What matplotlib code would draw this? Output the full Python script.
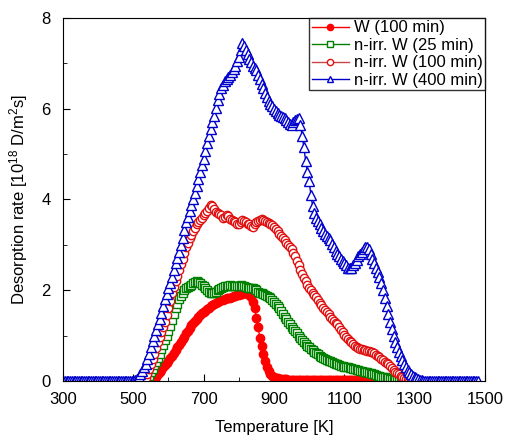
import numpy as np
import matplotlib
matplotlib.use('Agg')
import matplotlib.pyplot as plt

plt.rcParams['font.family'] = ['Liberation Sans', 'DejaVu Sans']
plt.rcParams['mathtext.default'] = 'regular'

STEP = 5

# W (100 min), from 550 K
w_100min = [0.0, 0.02, 0.05, 0.1, 0.15, 0.2, 0.25, 0.3, 0.35, 0.4,
            0.45, 0.5, 0.55, 0.62, 0.68, 0.74, 0.8, 0.86, 0.92, 0.98,
            1.05, 1.11, 1.17, 1.23, 1.28, 1.33, 1.37, 1.41, 1.45, 1.49,
            1.52, 1.55, 1.58, 1.62, 1.65, 1.68, 1.7, 1.73, 1.75, 1.77,
            1.78, 1.79, 1.8, 1.82, 1.83, 1.84, 1.85, 1.87, 1.88, 1.89,
            1.9, 1.91, 1.92, 1.93, 1.93, 1.92, 1.9, 1.85, 1.75, 1.6,
            1.4, 1.18, 0.95, 0.77, 0.6, 0.45, 0.32, 0.23, 0.16, 0.12,
            0.09, 0.07, 0.06, 0.05, 0.05, 0.04, 0.04, 0.04] + [0.03] * 53

# n-irr. W (25 min), from 530 K
nirr_25min = [0.0, 0.02, 0.05, 0.12, 0.2, 0.27, 0.35, 0.42, 0.5, 0.6,
              0.7, 0.8, 0.9, 1.0, 1.1, 1.22, 1.35, 1.48, 1.6, 1.7,
              1.8, 1.88, 1.95, 2.0, 2.05, 2.08, 2.1, 2.12, 2.15, 2.18,
              2.2, 2.18, 2.15, 2.12, 2.1, 2.05, 2.0, 1.97, 1.95, 1.94,
              1.95, 1.97, 2.0, 2.02, 2.05, 2.08, 2.1, 2.1, 2.1, 2.12,
              2.1, 2.1, 2.1, 2.1, 2.1, 2.12, 2.1, 2.1, 2.08, 2.06,
              2.05, 2.05, 2.05, 2.02, 2.0, 1.97, 1.95, 1.93, 1.92, 1.9,
              1.88, 1.85, 1.82, 1.78, 1.75, 1.7, 1.65, 1.6, 1.55, 1.48,
              1.42, 1.36, 1.3, 1.25, 1.2, 1.15, 1.1, 1.05, 1.0, 0.95,
              0.9, 0.86, 0.82, 0.78, 0.75, 0.71, 0.68, 0.65, 0.62, 0.59,
              0.56, 0.53, 0.5, 0.48, 0.47, 0.45, 0.44, 0.42, 0.4, 0.38,
              0.37, 0.35, 0.34, 0.33, 0.32, 0.31, 0.3, 0.29, 0.28, 0.27,
              0.26, 0.25, 0.24, 0.23, 0.22, 0.21, 0.2, 0.19, 0.18, 0.17,
              0.16, 0.15, 0.14, 0.12, 0.11, 0.1, 0.09, 0.08, 0.07, 0.06,
              0.05, 0.04, 0.03, 0.025, 0.02, 0.015, 0.01, 0.005, 0.0, 0.0,
              0.0]

# n-irr. W (100 min), from 530 K
nirr_100min = [0.0, 0.07, 0.15, 0.26, 0.38, 0.49, 0.6, 0.72, 0.85, 0.96,
               1.08, 1.19, 1.3, 1.45, 1.6, 1.77, 1.94, 2.07, 2.2, 2.32,
               2.45, 2.57, 2.7, 2.82, 2.95, 3.05, 3.15, 3.22, 3.3, 3.38,
               3.45, 3.5, 3.55, 3.6, 3.65, 3.7, 3.75, 3.82, 3.88, 3.85,
               3.8, 3.72, 3.7, 3.68, 3.65, 3.6, 3.62, 3.66, 3.64, 3.58,
               3.55, 3.52, 3.5, 3.47, 3.45, 3.5, 3.55, 3.52, 3.5, 3.47,
               3.45, 3.42, 3.4, 3.45, 3.5, 3.53, 3.55, 3.56, 3.55, 3.53,
               3.5, 3.48, 3.45, 3.43, 3.4, 3.35, 3.3, 3.25, 3.2, 3.15,
               3.1, 3.05, 3.0, 2.95, 2.9, 2.83, 2.75, 2.65, 2.55, 2.45,
               2.35, 2.27, 2.2, 2.12, 2.05, 2.0, 1.95, 1.9, 1.85, 1.78,
               1.72, 1.67, 1.62, 1.57, 1.52, 1.47, 1.42, 1.37, 1.33, 1.29,
               1.25, 1.18, 1.12, 1.07, 1.02, 0.97, 0.93, 0.89, 0.85, 0.81,
               0.78, 0.75, 0.73, 0.71, 0.7, 0.69, 0.68, 0.67, 0.66, 0.65,
               0.63, 0.61, 0.58, 0.55, 0.52, 0.49, 0.46, 0.43, 0.4, 0.37,
               0.33, 0.29, 0.25, 0.21, 0.18, 0.15, 0.12, 0.09, 0.07, 0.05,
               0.03, 0.01, 0.0]

# n-irr. W (400 min), from 300 K
nirr_400min = [0.0] * 41 + [
    0.02, 0.05, 0.1, 0.15, 0.22, 0.3, 0.38, 0.48, 0.6, 0.75,
    0.88, 1.0, 1.12, 1.25, 1.37, 1.5, 1.65, 1.8, 1.92, 2.05,
    2.17, 2.3, 2.45, 2.6, 2.72, 2.85, 3.0, 3.15, 3.32, 3.5,
    3.62, 3.75, 3.87, 4.0, 4.15, 4.3, 4.45, 4.6, 4.75, 4.9,
    5.07, 5.25, 5.4, 5.55, 5.7, 5.85, 6.02, 6.2, 6.32, 6.45,
    6.52, 6.6, 6.65, 6.7, 6.75, 6.8, 6.88, 6.95, 7.05, 7.15,
    7.3, 7.45, 7.38, 7.3, 7.2, 7.1, 7.02, 6.95, 6.9, 6.85,
    6.75, 6.65, 6.55, 6.45, 6.35, 6.25, 6.17, 6.1, 6.05, 6.0,
    5.95, 5.9, 5.87, 5.85, 5.82, 5.8, 5.75, 5.7, 5.67, 5.65,
    5.7, 5.75, 5.78, 5.8, 5.65, 5.4, 5.15, 4.85, 4.6, 4.4,
    4.1, 3.85, 3.7, 3.6, 3.52, 3.45, 3.37, 3.3, 3.25, 3.2,
    3.15, 3.1, 3.02, 2.95, 2.87, 2.8, 2.75, 2.7, 2.65, 2.6,
    2.55, 2.5, 2.48, 2.5, 2.55, 2.6, 2.67, 2.75, 2.8, 2.85,
    2.9, 2.95, 2.95, 2.9, 2.8, 2.7, 2.6, 2.5, 2.4, 2.3,
    2.15, 2.0, 1.82, 1.65, 1.47, 1.3, 1.15, 1.0, 0.87, 0.75,
    0.65, 0.55, 0.46, 0.38, 0.31, 0.25, 0.2, 0.15, 0.11, 0.08,
    0.06, 0.04, 0.03, 0.02] + [0.0] * 32

series = [
    ('W (100 min)', 550, w_100min, 'o', '#ff0000', '#ff0000', '#ff0000', 6),
    ('n-irr. W (25 min)', 530, nirr_25min, 's', '#008000', '#008000', 'white', 5.5),
    ('n-irr. W (100 min)', 530, nirr_100min, 'o', '#c84646', '#e01010', 'white', 6),
    ('n-irr. W (400 min)', 300, nirr_400min, '^', '#0000cc', '#0000cc', 'white', 6.5),
]

fig = plt.figure(figsize=(5.06, 4.37), dpi=100)
ax = fig.add_axes([0.1245, 0.128, 0.834, 0.831])

for label, t0, rate, marker, lc, ec, fc, ms in series:
    temp = t0 + STEP * np.arange(len(rate))
    ax.plot(temp, rate, '-', marker=marker, color=lc, lw=1, ms=ms,
            mec=ec, mfc=fc, mew=1.0, label=label)

ax.set_xlim(300, 1500)
ax.set_ylim(0, 8)
ax.set_xticks(range(300, 1501, 200))
ax.set_xticks(range(400, 1500, 200), minor=True)
ax.set_yticks(range(0, 9, 2))
ax.set_yticks(range(1, 8, 2), minor=True)
ax.tick_params(which='both', direction='in', labelsize=12)
ax.tick_params(which='major', length=5)
ax.tick_params(which='minor', length=3)
ax.tick_params(axis='x', which='major', pad=8)
ax.tick_params(axis='y', which='major', pad=9)

ax.set_xlabel('Temperature [K]', fontsize=12, labelpad=9)
ax.set_ylabel('Desorption rate [10$^{18}$ D/m$^2$s]', fontsize=12, labelpad=8)

leg = ax.legend(loc='upper right', fontsize=12, frameon=True, fancybox=False,
                borderaxespad=0, borderpad=0.15, labelspacing=0.15,
                handlelength=2.2, handletextpad=0.3, markerscale=0.75)
leg.get_frame().set_edgecolor('black')
leg.get_frame().set_linewidth(1)

plt.savefig('out.png', dpi=100)
